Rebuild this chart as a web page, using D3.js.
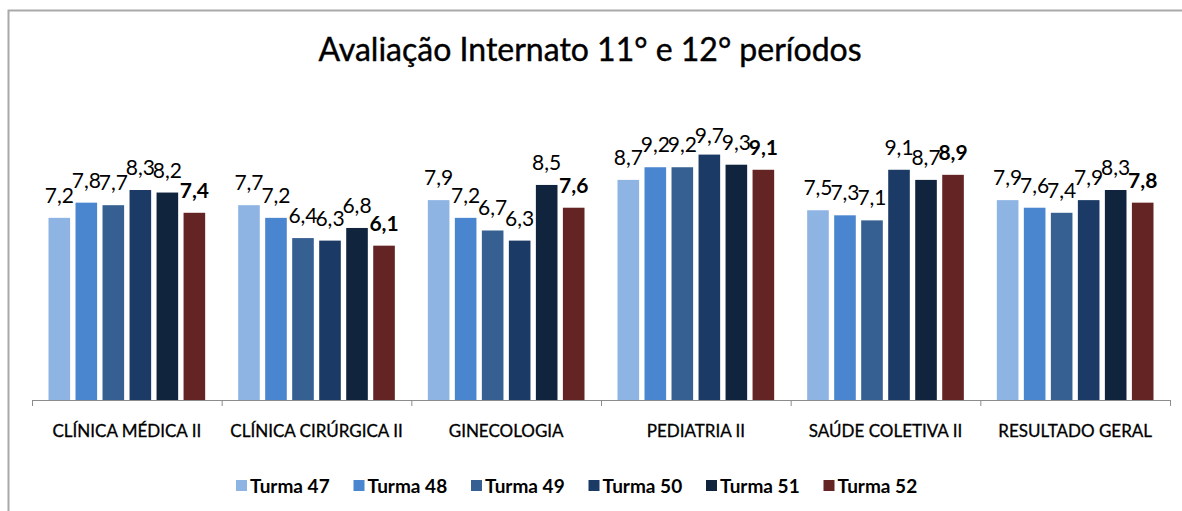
<!DOCTYPE html>
<html>
<head>
<meta charset="utf-8">
<script src="https://cdn.jsdelivr.net/npm/d3@7"></script>
<style>
  body { margin: 0; background: #fff; }
  text { font-family: Lato, "Open Sans", sans-serif; fill: #000; }
</style>
</head>
<body>
<svg width="1182" height="511"></svg>
<script>
var categories = ["CLÍNICA MÉDICA II", "CLÍNICA CIRÚRGICA II", "GINECOLOGIA", "PEDIATRIA II", "SAÚDE COLETIVA II", "RESULTADO GERAL"];
var turmas = ["Turma 47", "Turma 48", "Turma 49", "Turma 50", "Turma 51", "Turma 52"];
var turma47 = [7.2, 7.7, 7.9, 8.7, 7.5, 7.9],
    turma48 = [7.8, 7.2, 7.2, 9.2, 7.3, 7.6],
    turma49 = [7.7, 6.4, 6.7, 9.2, 7.1, 7.4],
    turma50 = [8.3, 6.3, 6.3, 9.7, 9.1, 7.9],
    turma51 = [8.2, 6.8, 8.5, 9.3, 8.7, 8.3],
    turma52 = [7.4, 6.1, 7.6, 9.1, 8.9, 7.8];
var series = [turma47, turma48, turma49, turma50, turma51, turma52];
var colors = ["#8EB4E3", "#4A86D0", "#366092", "#1B3A66", "#10243E", "#632423"];

var svg = d3.select("svg"),
    margin = {top: 147, left: 32, right: 12, bottom: 111},
    width = +svg.attr("width") - margin.left - margin.right,
    height = +svg.attr("height") - margin.top - margin.bottom;

// outer chart border (right/bottom edges fall outside the picture)
svg.append("rect")
    .attr("x", 8.5).attr("y", 10.5)
    .attr("width", 1200).attr("height", 520)
    .attr("fill", "none")
    .attr("stroke", "#a9a9a9")
    .attr("stroke-width", 2);

svg.append("text")
    .attr("x", 590).attr("y", 61)
    .attr("text-anchor", "middle")
    .style("font-size", "32px")
    .style("stroke", "#000")
    .style("stroke-width", 0.4)
    .text("Avaliação Internato 11° e 12° períodos");

var x0 = d3.scaleBand().domain(categories).range([0, width]).paddingInner(0).paddingOuter(0),
    x1 = d3.scaleBand().domain(d3.range(turmas.length)).range([16.5, x0.bandwidth() - 16.5]).paddingInner(0.2),
    xb = d3.scaleLinear().domain([0, categories.length]).range([0, width]),
    y = d3.scaleLinear().domain([0, 10]).range([height, 0]);

var g = svg.append("g")
    .attr("transform", "translate(" + margin.left + "," + margin.top + ")");

var groups = g.selectAll(".grp")
    .data(categories)
    .enter().append("g")
    .attr("class", "grp")
    .attr("transform", function(d) { return "translate(" + x0(d) + ",0)"; });

groups.selectAll("rect")
    .data(function(d, i) { return series.map(function(s, k) { return {k: k, v: s[i]}; }); })
    .enter().append("rect")
    .attr("x", function(d) { return x1(d.k); })
    .attr("width", x1.bandwidth())
    .attr("y", function(d) { return y(d.v); })
    .attr("height", function(d) { return height - y(d.v); })
    .attr("fill", function(d) { return colors[d.k]; });

groups.selectAll(".lbl")
    .data(function(d, i) { return series.map(function(s, k) { return {k: k, v: s[i]}; }); })
    .enter().append("text")
    .attr("class", "lbl")
    .attr("x", function(d) { return x1(d.k) + x1.bandwidth() / 2; })
    .attr("y", function(d) { return Math.max(y(d.v) - 15, -4); })
    .attr("text-anchor", "middle")
    .style("font-size", "21px")
    .style("font-weight", function(d) { return d.k == 5 ? "bold" : "normal"; })
    .text(function(d) { return d3.format(".1f")(d.v).replace(".", ","); });

// boundary ticks + baseline
var axisB = g.append("g")
    .attr("transform", "translate(0," + height + ")")
    .call(d3.axisBottom(xb).ticks(categories.length).tickSize(6).tickFormat(""));
axisB.selectAll("path, line").attr("stroke", "#8c8c8c");

// category labels
var axisC = g.append("g")
    .attr("transform", "translate(0," + height + ")")
    .call(d3.axisBottom(x0).tickSize(0).tickPadding(25));
axisC.select(".domain").remove();
axisC.selectAll("text")
    .style("font-family", "Lato, sans-serif")
    .style("font-size", "17px")
    .style("stroke", "#000")
    .style("stroke-width", 0.3)
    .attr("fill", "#000");

// legend
var legend = svg.append("g")
    .selectAll("g")
    .data(turmas)
    .enter().append("g")
    .attr("transform", function(d, i) { return "translate(" + (236 + i * 117.5) + ",486)"; });

legend.append("rect")
    .attr("x", 0).attr("y", -6)
    .attr("width", 11).attr("height", 11)
    .attr("fill", function(d, i) { return colors[i]; });

legend.append("text")
    .attr("x", 14).attr("y", 7)
    .style("font-size", "19px")
    .style("font-weight", "bold")
    .text(function(d) { return d; });
</script>
</body>
</html>
